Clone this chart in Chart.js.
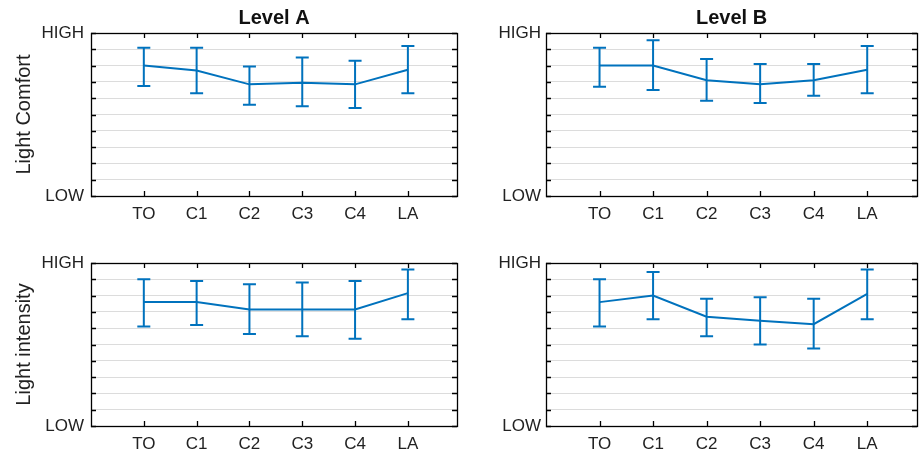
<!DOCTYPE html>
<html>
<head>
<meta charset="utf-8">
<script src="https://cdn.jsdelivr.net/npm/chart.js@4"></script>
<style>
  html, body { margin: 0; padding: 0; background: #fff; overflow: hidden; }
  body { width: 920px; height: 455px; position: relative; }
  canvas { position: absolute; }
</style>
</head>
<body>
<canvas id="comfortA" width="460" height="228" style="left:0;top:0"></canvas>
<canvas id="comfortB" width="460" height="228" style="left:460px;top:0"></canvas>
<canvas id="intensityA" width="460" height="228" style="left:0;top:230px"></canvas>
<canvas id="intensityB" width="460" height="228" style="left:460px;top:230px"></canvas>
<script>
const categories = ["TO", "C1", "C2", "C3", "C4", "LA"];
const yTickValues = [0, 10];
const yTickLabels = ["LOW", "HIGH"];

// light comfort
const comfortAMean = [8.0, 7.7, 6.85, 6.95, 6.85, 7.75];
const comfortAUpper = [9.1, 9.1, 7.95, 8.5, 8.3, 9.2];
const comfortALower = [6.75, 6.3, 5.6, 5.5, 5.4, 6.3];

const comfortBMean = [8.0, 8.0, 7.1, 6.85, 7.1, 7.75];
const comfortBUpper = [9.1, 9.55, 8.4, 8.1, 8.1, 9.2];
const comfortBLower = [6.7, 6.5, 5.85, 5.7, 6.15, 6.3];

// light intensity
const intensityAMean = [7.6, 7.6, 7.15, 7.15, 7.15, 8.15];
const intensityAUpper = [9.0, 8.9, 8.7, 8.8, 8.9, 9.6];
const intensityALower = [6.1, 6.2, 5.65, 5.5, 5.35, 6.55];

const intensityBMean = [7.6, 8.0, 6.7, 6.45, 6.25, 8.1];
const intensityBUpper = [9.0, 9.45, 7.8, 7.9, 7.8, 9.6];
const intensityBLower = [6.1, 6.55, 5.5, 5.0, 4.75, 6.55];

const BLUE = "#0072BD";
const FONT = "'Liberation Sans', Arial, sans-serif";

// error bars + box + inward tick marks
const framePlugin = {
  id: "frame",
  afterDatasetsDraw(chart) {
    const ctx = chart.ctx;
    const ds = chart.data.datasets[0];
    const meta = chart.getDatasetMeta(0);
    const y = chart.scales.y;
    const x = chart.scales.x;
    ctx.save();
    ctx.strokeStyle = BLUE;
    ctx.lineWidth = 2;
    meta.data.forEach((pt, i) => {
      const yt = y.getPixelForValue(ds.upper[i]);
      const yb = y.getPixelForValue(ds.lower[i]);
      ctx.beginPath();
      ctx.moveTo(pt.x, yt); ctx.lineTo(pt.x, yb);
      ctx.moveTo(pt.x - 6.5, yt); ctx.lineTo(pt.x + 6.5, yt);
      ctx.moveTo(pt.x - 6.5, yb); ctx.lineTo(pt.x + 6.5, yb);
      ctx.stroke();
    });
    const a = chart.chartArea;
    ctx.strokeStyle = "#000";
    ctx.lineWidth = 1.3;
    ctx.beginPath();
    y.ticks.forEach(t => {
      const py = Math.round(y.getPixelForValue(t.value)) + 0.5;
      ctx.moveTo(a.left, py); ctx.lineTo(a.left + 5, py);
      ctx.moveTo(a.right, py); ctx.lineTo(a.right - 5, py);
    });
    x.ticks.forEach(t => {
      const px = Math.round(x.getPixelForValue(t.value)) + 0.5;
      ctx.moveTo(px, a.top); ctx.lineTo(px, a.top + 5);
      ctx.moveTo(px, a.bottom); ctx.lineTo(px, a.bottom - 5);
    });
    ctx.stroke();
    ctx.strokeRect(Math.round(a.left) + 0.5, Math.round(a.top) + 0.5,
      Math.round(a.right - a.left), Math.round(a.bottom - a.top));
    ctx.restore();
  }
};

function makePanel(id, mean, upper, lower, cfg) {
  new Chart(document.getElementById(id), {
    type: "line",
    data: {
      datasets: [{
        data: mean.map((v, i) => ({ x: i + 1, y: v })),
        upper: upper,
        lower: lower,
        borderColor: BLUE,
        borderWidth: 2,
        pointRadius: 0,
        fill: false,
        tension: 0
      }]
    },
    options: {
      responsive: false,
      animation: false,
      layout: { padding: { top: cfg.title ? 0 : 33, right: 3, left: 0, bottom: 0 } },
      plugins: {
        legend: { display: false },
        tooltip: { enabled: false },
        title: {
          display: !!cfg.title,
          text: cfg.title,
          fullSize: false,
          color: "#111",
          font: { family: FONT, size: 20, weight: "bold" },
          padding: { top: 6, bottom: 3 }
        }
      },
      scales: {
        x: {
          type: "linear",
          min: 0,
          max: 6.93,
          afterBuildTicks: s => { s.ticks = categories.map((c, i) => ({ value: i + 1 })); },
          afterFit: s => { s.height = 32; s.paddingLeft = 0; s.paddingRight = 0; },
          grid: { display: false, drawTicks: false },
          border: { display: false },
          ticks: {
            autoSkip: false,
            maxRotation: 0,
            padding: 8,
            color: "#222",
            font: { family: FONT, size: 17 },
            callback: v => categories[v - 1] || ""
          }
        },
        y: {
          min: 0,
          max: 10,
          afterFit: s => { s.width = cfg.yWidth; s.paddingTop = 0; s.paddingBottom = 0; },
          grid: { color: "#dcdcdc", lineWidth: 1, drawTicks: false },
          border: { display: false },
          ticks: {
            stepSize: 1,
            autoSkip: false,
            padding: cfg.labelPad,
            color: "#222",
            font: { family: FONT, size: 17 },
            callback: v => {
              const k = yTickValues.indexOf(v);
              return k >= 0 ? yTickLabels[k] : "";
            }
          },
          title: {
            display: !!cfg.yTitle,
            text: cfg.yTitle,
            color: "#222",
            font: { family: FONT, size: 20 },
            padding: { top: 12, bottom: 0 }
          }
        }
      }
    },
    plugins: [framePlugin]
  });
}

makePanel("comfortA", comfortAMean, comfortAUpper, comfortALower,
  { title: "Level A", yTitle: "Light Comfort", yWidth: 91, labelPad: 7 });
makePanel("comfortB", comfortBMean, comfortBUpper, comfortBLower,
  { title: "Level B", yTitle: "", yWidth: 86, labelPad: 5 });
makePanel("intensityA", intensityAMean, intensityAUpper, intensityALower,
  { title: "", yTitle: "Light intensity", yWidth: 91, labelPad: 7 });
makePanel("intensityB", intensityBMean, intensityBUpper, intensityBLower,
  { title: "", yTitle: "", yWidth: 86, labelPad: 5 });
</script>
</body>
</html>
